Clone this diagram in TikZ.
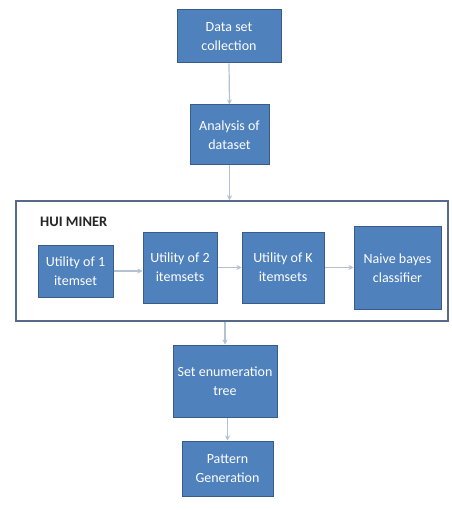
\documentclass[tikz,border=0pt]{standalone}
\usepackage{fontspec}
\setmainfont{Carlito}
\usetikzlibrary{arrows.meta}
\definecolor{boxfill}{HTML}{4F81BD}
\definecolor{boxline}{HTML}{385D8A}
\definecolor{arrowc}{HTML}{B4C0D4}
\definecolor{outerline}{HTML}{56698A}
\tikzset{
  bluebox/.style={draw=boxline, line width=1pt, fill=boxfill, text=white, align=center,
    font=\fontsize{14}{19}\selectfont, inner sep=0pt},
  conn/.style={draw=arrowc, line width=1.2pt, -{Stealth[length=5pt,width=5pt]}},
}
\begin{document}
\begin{tikzpicture}[x=1pt,y=-1pt]
\useasboundingbox[fill=white] (0,0) rectangle (451,510);
% outer HUI MINER frame
\node[draw=outerline, line width=1.5pt, minimum width=432pt, minimum height=120pt, inner sep=0pt] (hui) at (232,261) {};
\node[anchor=west, inner sep=0pt, font=\fontsize{14.5}{16}\selectfont\bfseries, text=black!85] (huilabel) at (40,222) {HUI MINER};
% boxes
\node[bluebox, minimum width=104pt, minimum height=53pt] (d1) at (229,36.5) {Data set\\collection};
\node[bluebox, minimum width=79pt, minimum height=60pt] (d2) at (229.5,135) {Analysis of\\dataset};
\node[bluebox, minimum width=75pt, minimum height=52pt] (u1) at (75.5,271) {Utility of 1\\itemset};
\node[bluebox, minimum width=74pt, minimum height=71pt] (u2) at (180,267.5) {Utility of 2\\itemsets};
\node[bluebox, minimum width=82pt, minimum height=71pt] (uk) at (283,267.5) {Utility of K\\itemsets};
\node[bluebox, minimum width=87pt, minimum height=82pt] (nb) at (397.5,268) {Naive bayes\\classifier};
\node[bluebox, minimum width=104pt, minimum height=72pt] (se) at (225,381) {Set enumeration\\tree};
\node[bluebox, minimum width=91pt, minimum height=55pt] (pg) at (227.5,468.5) {Pattern\\Generation};
% connectors
\draw[conn] (d1.south) -- (d2.north);
\draw[conn] (d2.south) -- (d2.south |- hui.north);
\draw[conn] (u1.east) -- (u1.east -| u2.west);
\draw[conn] (uk.east) -- (uk.east -| nb.west);
\draw[conn] (u2.east |- uk.west) -- (uk.west);
\draw[conn] (hui.south -| se.north) -- (se.north);
\draw[conn] (se.south -| pg.north) -- (pg.north);
\end{tikzpicture}
\end{document}
